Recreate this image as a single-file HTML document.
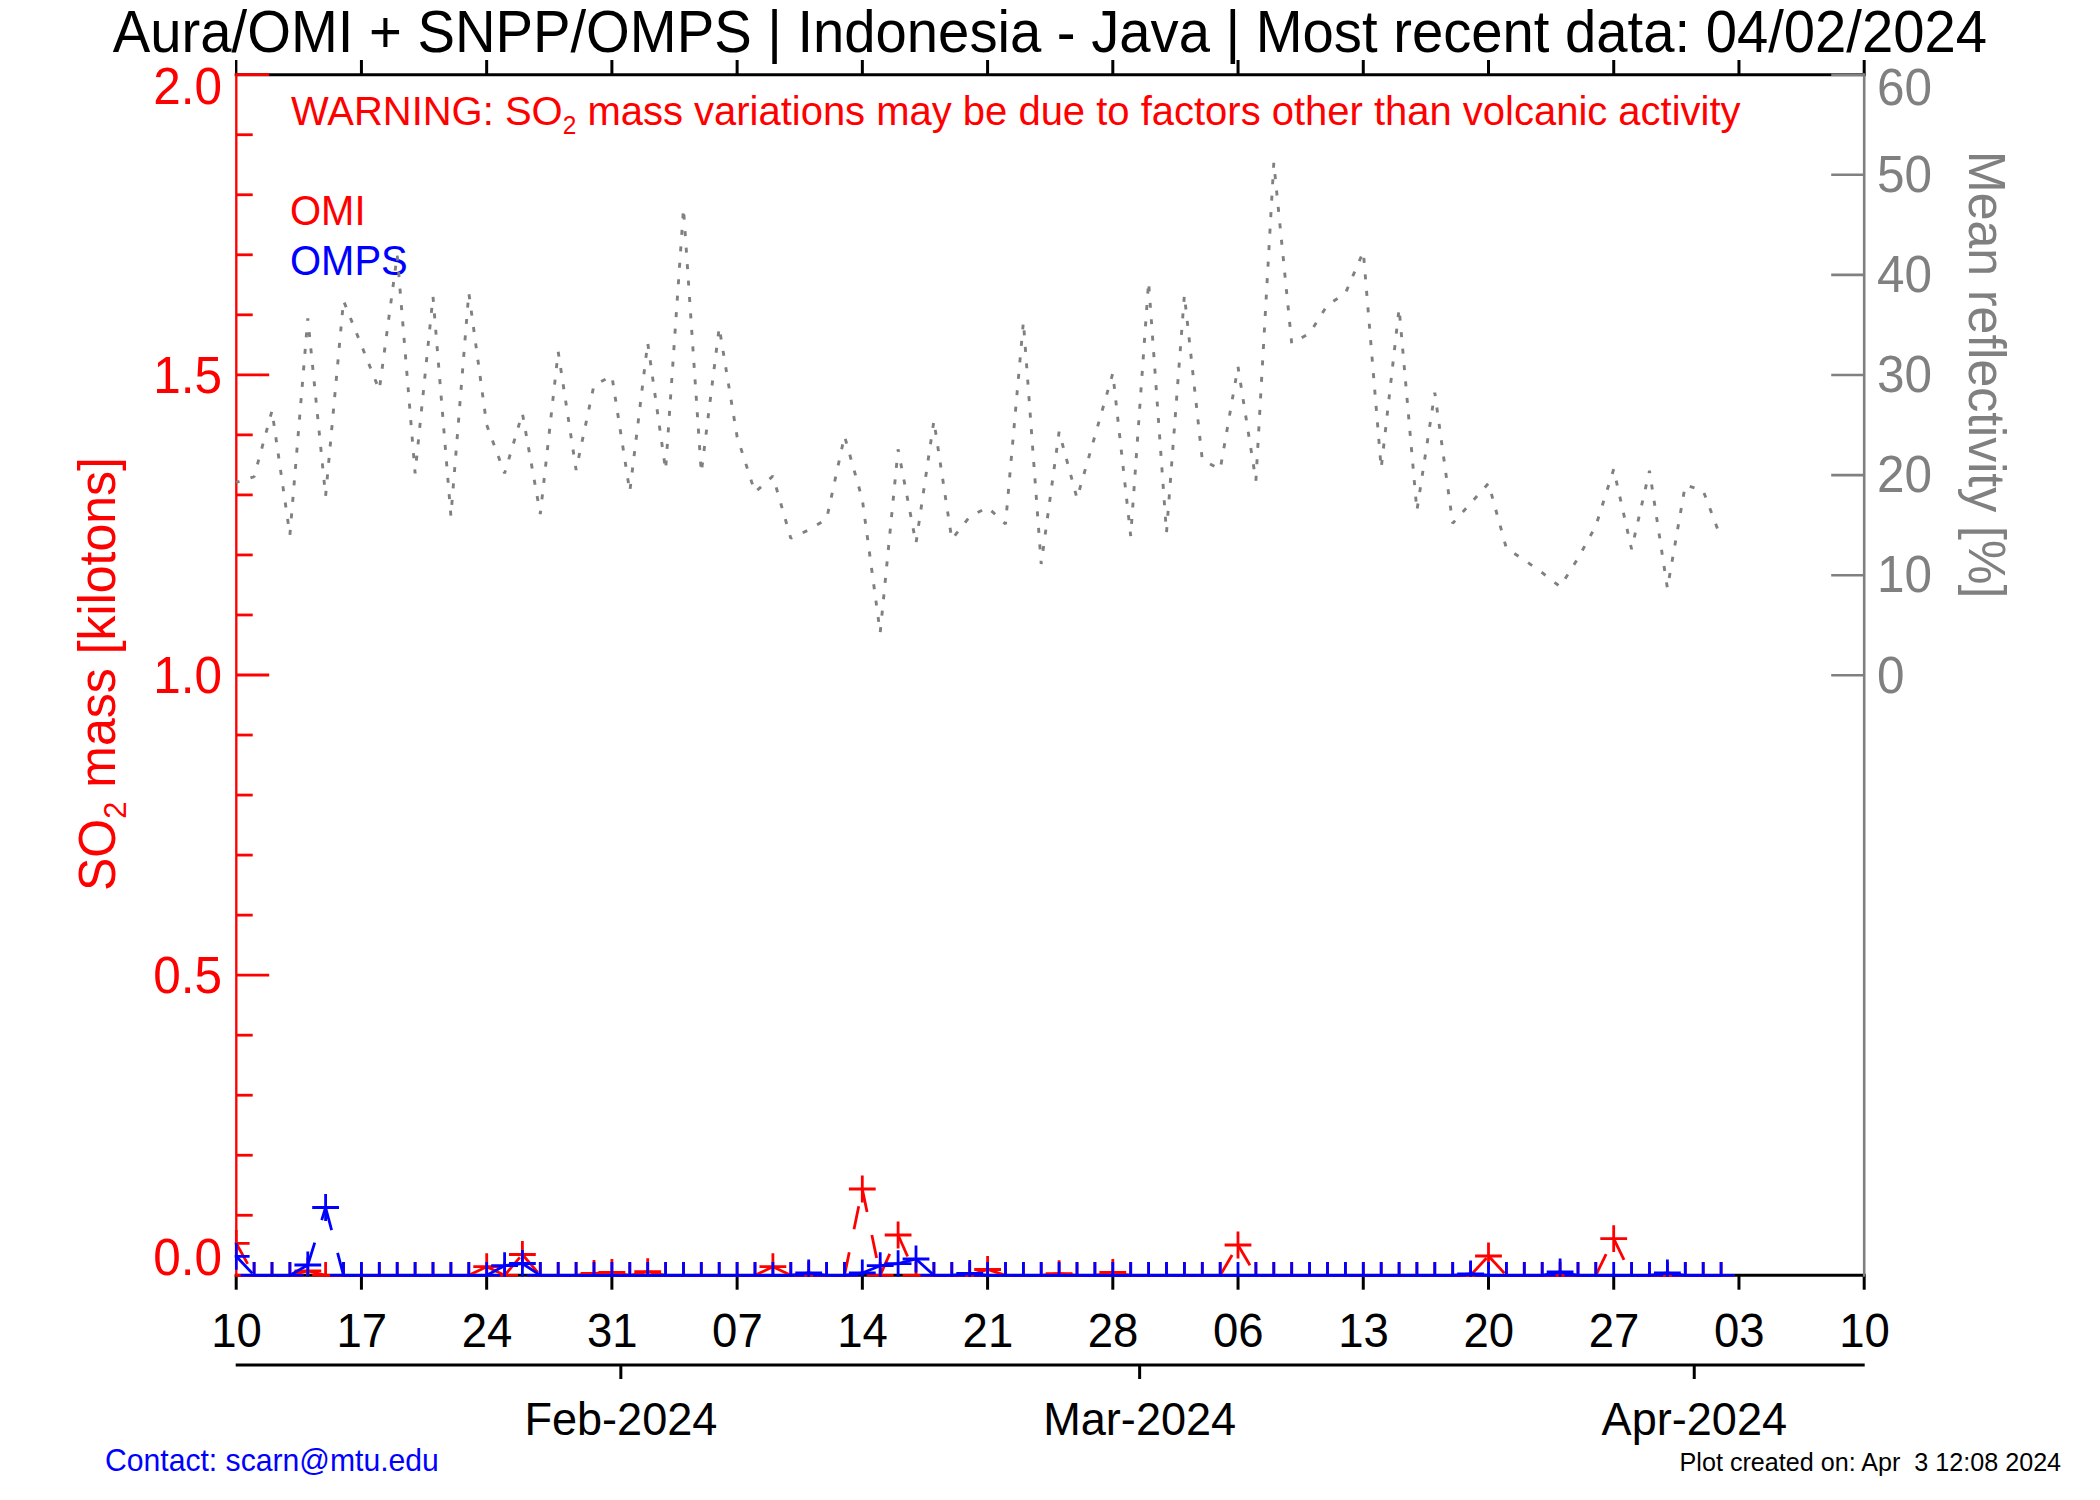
<!DOCTYPE html>
<html><head><meta charset="utf-8"><title>SO2 mass time series</title>
<style>
html,body{margin:0;padding:0;background:#fff;}
body{width:2100px;height:1500px;overflow:hidden;}
svg{display:block;}
text{font-family:"Liberation Sans",Arial,Helvetica,sans-serif;white-space:pre;}
</style></head><body>
<svg width="2100" height="1500" viewBox="0 0 2100 1500">
<rect width="2100" height="1500" fill="#fff"/>
<defs><clipPath id="cp"><rect x="234.7" y="60" width="1632" height="1216.8"/></clipPath></defs>

<g stroke="#000" stroke-width="3" fill="none">
<line x1="234.7" y1="74.7" x2="1865.7" y2="74.7"/>
<line x1="234.7" y1="1275.3" x2="1865.7" y2="1275.3"/>
<line x1="236.20" y1="60" x2="236.20" y2="74.7" stroke-width="2.4"/>
<line x1="236.20" y1="1275.3" x2="236.20" y2="1289.7"/>
<line x1="361.43" y1="60" x2="361.43" y2="74.7"/>
<line x1="361.43" y1="1275.3" x2="361.43" y2="1289.7"/>
<line x1="486.66" y1="60" x2="486.66" y2="74.7"/>
<line x1="486.66" y1="1275.3" x2="486.66" y2="1289.7"/>
<line x1="611.89" y1="60" x2="611.89" y2="74.7"/>
<line x1="611.89" y1="1275.3" x2="611.89" y2="1289.7"/>
<line x1="737.12" y1="60" x2="737.12" y2="74.7"/>
<line x1="737.12" y1="1275.3" x2="737.12" y2="1289.7"/>
<line x1="862.35" y1="60" x2="862.35" y2="74.7"/>
<line x1="862.35" y1="1275.3" x2="862.35" y2="1289.7"/>
<line x1="987.58" y1="60" x2="987.58" y2="74.7"/>
<line x1="987.58" y1="1275.3" x2="987.58" y2="1289.7"/>
<line x1="1112.81" y1="60" x2="1112.81" y2="74.7"/>
<line x1="1112.81" y1="1275.3" x2="1112.81" y2="1289.7"/>
<line x1="1238.04" y1="60" x2="1238.04" y2="74.7"/>
<line x1="1238.04" y1="1275.3" x2="1238.04" y2="1289.7"/>
<line x1="1363.27" y1="60" x2="1363.27" y2="74.7"/>
<line x1="1363.27" y1="1275.3" x2="1363.27" y2="1289.7"/>
<line x1="1488.50" y1="60" x2="1488.50" y2="74.7"/>
<line x1="1488.50" y1="1275.3" x2="1488.50" y2="1289.7"/>
<line x1="1613.73" y1="60" x2="1613.73" y2="74.7"/>
<line x1="1613.73" y1="1275.3" x2="1613.73" y2="1289.7"/>
<line x1="1738.96" y1="60" x2="1738.96" y2="74.7"/>
<line x1="1738.96" y1="1275.3" x2="1738.96" y2="1289.7"/>
<line x1="1864.19" y1="60" x2="1864.19" y2="74.7"/>
<line x1="1864.19" y1="1275.3" x2="1864.19" y2="1289.7"/>
<line x1="235.7" y1="1365" x2="1864.7" y2="1365"/>
<line x1="620.84" y1="1365" x2="620.84" y2="1379"/>
<line x1="1139.64" y1="1365" x2="1139.64" y2="1379"/>
<line x1="1694.24" y1="1365" x2="1694.24" y2="1379"/>
</g>
<g stroke="#808080" stroke-width="2.6" fill="none">
<line x1="1864.2" y1="73.2" x2="1864.2" y2="1276.8"/>
<line x1="1864.2" y1="74.70" x2="1831.2" y2="74.70"/>
<line x1="1864.2" y1="174.80" x2="1831.2" y2="174.80"/>
<line x1="1864.2" y1="274.90" x2="1831.2" y2="274.90"/>
<line x1="1864.2" y1="375.00" x2="1831.2" y2="375.00"/>
<line x1="1864.2" y1="475.10" x2="1831.2" y2="475.10"/>
<line x1="1864.2" y1="575.20" x2="1831.2" y2="575.20"/>
<line x1="1864.2" y1="675.30" x2="1831.2" y2="675.30"/>
</g>
<g stroke="#f00" stroke-width="2.8" fill="none">
<line x1="236.29999999999998" y1="73.2" x2="236.29999999999998" y2="1276.8" stroke-width="2.35"/>
<line x1="236.2" y1="74.70" x2="269.2" y2="74.70"/>
<line x1="236.2" y1="134.73" x2="252.7" y2="134.73"/>
<line x1="236.2" y1="194.76" x2="252.7" y2="194.76"/>
<line x1="236.2" y1="254.79" x2="252.7" y2="254.79"/>
<line x1="236.2" y1="314.82" x2="252.7" y2="314.82"/>
<line x1="236.2" y1="374.85" x2="269.2" y2="374.85"/>
<line x1="236.2" y1="434.88" x2="252.7" y2="434.88"/>
<line x1="236.2" y1="494.91" x2="252.7" y2="494.91"/>
<line x1="236.2" y1="554.94" x2="252.7" y2="554.94"/>
<line x1="236.2" y1="614.97" x2="252.7" y2="614.97"/>
<line x1="236.2" y1="675.00" x2="269.2" y2="675.00"/>
<line x1="236.2" y1="735.03" x2="252.7" y2="735.03"/>
<line x1="236.2" y1="795.06" x2="252.7" y2="795.06"/>
<line x1="236.2" y1="855.09" x2="252.7" y2="855.09"/>
<line x1="236.2" y1="915.12" x2="252.7" y2="915.12"/>
<line x1="236.2" y1="975.15" x2="269.2" y2="975.15"/>
<line x1="236.2" y1="1035.18" x2="252.7" y2="1035.18"/>
<line x1="236.2" y1="1095.21" x2="252.7" y2="1095.21"/>
<line x1="236.2" y1="1155.24" x2="252.7" y2="1155.24"/>
<line x1="236.2" y1="1215.27" x2="252.7" y2="1215.27"/>
<line x1="236.2" y1="1275.30" x2="269.2" y2="1275.30"/>
</g>
<text transform="translate(1049.9,52.3) scale(1,1.04)" font-size="56.22" fill="#000" text-anchor="middle">Aura/OMI + SNPP/OMPS | Indonesia - Java | Most recent data: 04/02/2024</text>
<text transform="translate(222,104.3) scale(1,1.03)" font-size="49.5" fill="#f00" text-anchor="end">2.0</text>
<text transform="translate(222,392.8) scale(1,1.03)" font-size="49.5" fill="#f00" text-anchor="end">1.5</text>
<text transform="translate(222,693) scale(1,1.03)" font-size="49.5" fill="#f00" text-anchor="end">1.0</text>
<text transform="translate(222,993) scale(1,1.03)" font-size="49.5" fill="#f00" text-anchor="end">0.5</text>
<text transform="translate(222,1275) scale(1,1.03)" font-size="49.5" fill="#f00" text-anchor="end">0.0</text>
<text transform="translate(1877,105) scale(1,1.03)" font-size="49.5" fill="#808080" text-anchor="start">60</text>
<text transform="translate(1877,192.0) scale(1,1.03)" font-size="49.5" fill="#808080" text-anchor="start">50</text>
<text transform="translate(1877,292.3) scale(1,1.03)" font-size="49.5" fill="#808080" text-anchor="start">40</text>
<text transform="translate(1877,392.3) scale(1,1.03)" font-size="49.5" fill="#808080" text-anchor="start">30</text>
<text transform="translate(1877,492.3) scale(1,1.03)" font-size="49.5" fill="#808080" text-anchor="start">20</text>
<text transform="translate(1877,592.4) scale(1,1.03)" font-size="49.5" fill="#808080" text-anchor="start">10</text>
<text transform="translate(1877,693) scale(1,1.03)" font-size="49.5" fill="#808080" text-anchor="start">0</text>
<text transform="translate(236.5,1347) scale(1,1.06)" font-size="45.5" fill="#000" text-anchor="middle">10</text>
<text transform="translate(361.7,1347) scale(1,1.06)" font-size="45.5" fill="#000" text-anchor="middle">17</text>
<text transform="translate(487.0,1347) scale(1,1.06)" font-size="45.5" fill="#000" text-anchor="middle">24</text>
<text transform="translate(612.2,1347) scale(1,1.06)" font-size="45.5" fill="#000" text-anchor="middle">31</text>
<text transform="translate(737.4,1347) scale(1,1.06)" font-size="45.5" fill="#000" text-anchor="middle">07</text>
<text transform="translate(862.6,1347) scale(1,1.06)" font-size="45.5" fill="#000" text-anchor="middle">14</text>
<text transform="translate(987.9,1347) scale(1,1.06)" font-size="45.5" fill="#000" text-anchor="middle">21</text>
<text transform="translate(1113.1,1347) scale(1,1.06)" font-size="45.5" fill="#000" text-anchor="middle">28</text>
<text transform="translate(1238.3,1347) scale(1,1.06)" font-size="45.5" fill="#000" text-anchor="middle">06</text>
<text transform="translate(1363.6,1347) scale(1,1.06)" font-size="45.5" fill="#000" text-anchor="middle">13</text>
<text transform="translate(1488.8,1347) scale(1,1.06)" font-size="45.5" fill="#000" text-anchor="middle">20</text>
<text transform="translate(1614.0,1347) scale(1,1.06)" font-size="45.5" fill="#000" text-anchor="middle">27</text>
<text transform="translate(1739.3,1347) scale(1,1.06)" font-size="45.5" fill="#000" text-anchor="middle">03</text>
<text transform="translate(1864.5,1347) scale(1,1.06)" font-size="45.5" fill="#000" text-anchor="middle">10</text>
<text transform="translate(620.9,1435) scale(1,1.045)" font-size="45.1" fill="#000" text-anchor="middle">Feb-2024</text>
<text transform="translate(1139.7,1435) scale(1,1.045)" font-size="45.1" fill="#000" text-anchor="middle">Mar-2024</text>
<text transform="translate(1694.3,1435) scale(1,1.045)" font-size="45.1" fill="#000" text-anchor="middle">Apr-2024</text>
<text transform="translate(291,124.8) scale(1,1.03)" font-size="39.98" fill="#f00" text-anchor="start">WARNING: SO<tspan font-size="24.5" dy="9">2</tspan><tspan dy="-9"> mass variations may be due to factors other than volcanic activity</tspan></text>
<text transform="translate(290,225) scale(1,1.045)" font-size="40" fill="#f00" text-anchor="start">OMI</text>
<text transform="translate(290,275) scale(1,1.045)" font-size="40" fill="#00f" text-anchor="start">OMPS</text>
<text transform="translate(115,674) rotate(-90) scale(1,1.03)" font-size="50" fill="#f00" text-anchor="middle">SO<tspan font-size="31" dy="11">2</tspan><tspan dy="-11"> mass [kilotons]</tspan></text>
<text transform="translate(1968.8,151) rotate(90) scale(1,1.03)" font-size="50" fill="#808080" text-anchor="start">Mean reflectivity [%]</text>
<text transform="translate(105,1470.5) scale(1,1.03)" font-size="30.15" fill="#00f" text-anchor="start">Contact: scarn@mtu.edu</text>
<text transform="translate(1679.6,1470.5) scale(1,1.03)" font-size="25.15" fill="#000" text-anchor="start">Plot created on: Apr  3 12:08 2024</text>
<g clip-path="url(#cp)" fill="none">
<polyline stroke="#808080" stroke-width="2.9" stroke-dasharray="5.0 11.5" stroke-dashoffset="1.54" stroke-linejoin="bevel" points="236.2,482.3 254.1,476.7 272.0,410.7 289.9,535.0 307.8,318.3 325.6,496.0 343.5,300.7 361.4,345.3 379.3,390.0 397.2,255.0 415.1,473.3 433.0,296.7 450.9,516.0 468.8,292.7 486.7,425.0 504.6,473.3 522.4,413.3 540.3,514.0 558.2,351.7 576.1,470.0 594.0,385.0 611.9,376.0 629.8,491.7 647.7,342.7 665.6,470.0 683.5,208.3 701.3,472.7 719.2,327.3 737.1,436.7 755.0,492.3 772.9,476.0 790.8,538.3 808.7,530.0 826.6,519.0 844.5,436.0 862.3,499.3 880.2,632.7 898.1,449.3 916.0,543.3 933.9,420.7 951.8,539.3 969.7,516.7 987.6,507.3 1005.5,524.0 1023.4,321.7 1041.2,564.0 1059.1,431.7 1077.0,498.3 1094.9,436.0 1112.8,373.3 1130.7,536.0 1148.6,281.7 1166.5,532.7 1184.4,295.0 1202.3,460.0 1220.2,469.3 1238.0,366.7 1255.9,480.7 1273.8,162.7 1291.7,343.3 1309.6,333.3 1327.5,305.0 1345.4,293.3 1363.3,251.7 1381.2,468.3 1399.1,308.3 1416.9,510.7 1434.8,392.7 1452.7,523.3 1470.6,503.3 1488.5,483.3 1506.4,548.3 1524.3,560.0 1542.2,572.7 1560.1,586.7 1578.0,558.3 1595.8,526.0 1613.7,469.3 1631.6,549.3 1649.5,470.7 1667.4,588.3 1685.3,485.0 1703.2,490.7 1721.1,538.3"/>
<g stroke="#f00" stroke-width="2.8">
<g stroke-dasharray="23.5 23.5">
<line x1="236.2" y1="1243.3" x2="254.1" y2="1275.3"/>
<line x1="254.1" y1="1275.3" x2="272.0" y2="1275.3"/>
<line x1="272.0" y1="1275.3" x2="289.9" y2="1275.3"/>
<line x1="289.9" y1="1275.3" x2="307.8" y2="1270.8"/>
<line x1="307.8" y1="1270.8" x2="325.6" y2="1275.3"/>
<line x1="325.6" y1="1275.3" x2="343.5" y2="1275.3"/>
<line x1="343.5" y1="1275.3" x2="361.4" y2="1275.3"/>
<line x1="361.4" y1="1275.3" x2="379.3" y2="1275.3"/>
<line x1="379.3" y1="1275.3" x2="397.2" y2="1275.3"/>
<line x1="397.2" y1="1275.3" x2="415.1" y2="1275.3"/>
<line x1="415.1" y1="1275.3" x2="433.0" y2="1275.3"/>
<line x1="433.0" y1="1275.3" x2="450.9" y2="1275.3"/>
<line x1="450.9" y1="1275.3" x2="468.8" y2="1275.3"/>
<line x1="468.8" y1="1275.3" x2="486.7" y2="1266.7"/>
<line x1="486.7" y1="1266.7" x2="504.6" y2="1275.3"/>
<line x1="504.6" y1="1275.3" x2="522.4" y2="1254.5"/>
<line x1="522.4" y1="1254.5" x2="540.3" y2="1275.3"/>
<line x1="540.3" y1="1275.3" x2="558.2" y2="1275.3"/>
<line x1="558.2" y1="1275.3" x2="576.1" y2="1275.3"/>
<line x1="576.1" y1="1275.3" x2="594.0" y2="1273.3"/>
<line x1="594.0" y1="1273.3" x2="611.9" y2="1272.5"/>
<line x1="611.9" y1="1272.5" x2="629.8" y2="1275.3"/>
<line x1="629.8" y1="1275.3" x2="647.7" y2="1271.7"/>
<line x1="647.7" y1="1271.7" x2="665.6" y2="1275.3"/>
<line x1="665.6" y1="1275.3" x2="683.5" y2="1275.3"/>
<line x1="683.5" y1="1275.3" x2="701.3" y2="1275.3"/>
<line x1="701.3" y1="1275.3" x2="719.2" y2="1275.3"/>
<line x1="719.2" y1="1275.3" x2="737.1" y2="1275.3"/>
<line x1="737.1" y1="1275.3" x2="755.0" y2="1275.3"/>
<line x1="755.0" y1="1275.3" x2="772.9" y2="1266.7"/>
<line x1="772.9" y1="1266.7" x2="790.8" y2="1275.3"/>
<line x1="790.8" y1="1275.3" x2="808.7" y2="1274.8"/>
<line x1="808.7" y1="1274.8" x2="826.6" y2="1275.3"/>
<line x1="826.6" y1="1275.3" x2="844.5" y2="1275.3"/>
<line x1="844.5" y1="1275.3" x2="862.3" y2="1189.0"/>
<line x1="862.3" y1="1189.0" x2="880.2" y2="1275.3"/>
<line x1="880.2" y1="1275.3" x2="898.1" y2="1235.0"/>
<line x1="898.1" y1="1235.0" x2="916.0" y2="1275.3"/>
<line x1="916.0" y1="1275.3" x2="933.9" y2="1275.3"/>
<line x1="933.9" y1="1275.3" x2="951.8" y2="1275.3"/>
<line x1="951.8" y1="1275.3" x2="969.7" y2="1275.3"/>
<line x1="969.7" y1="1275.3" x2="987.6" y2="1269.5"/>
<line x1="987.6" y1="1269.5" x2="1005.5" y2="1275.3"/>
<line x1="1005.5" y1="1275.3" x2="1023.4" y2="1275.3"/>
<line x1="1023.4" y1="1275.3" x2="1041.2" y2="1275.3"/>
<line x1="1041.2" y1="1275.3" x2="1059.1" y2="1273.7"/>
<line x1="1059.1" y1="1273.7" x2="1077.0" y2="1275.3"/>
<line x1="1077.0" y1="1275.3" x2="1094.9" y2="1275.3"/>
<line x1="1094.9" y1="1275.3" x2="1112.8" y2="1272.5"/>
<line x1="1112.8" y1="1272.5" x2="1130.7" y2="1275.3"/>
<line x1="1130.7" y1="1275.3" x2="1148.6" y2="1275.3"/>
<line x1="1148.6" y1="1275.3" x2="1166.5" y2="1275.3"/>
<line x1="1166.5" y1="1275.3" x2="1184.4" y2="1275.3"/>
<line x1="1184.4" y1="1275.3" x2="1202.3" y2="1275.3"/>
<line x1="1202.3" y1="1275.3" x2="1220.2" y2="1275.3"/>
<line x1="1220.2" y1="1275.3" x2="1238.0" y2="1245.0"/>
<line x1="1238.0" y1="1245.0" x2="1255.9" y2="1275.3"/>
<line x1="1255.9" y1="1275.3" x2="1273.8" y2="1275.3"/>
<line x1="1273.8" y1="1275.3" x2="1291.7" y2="1275.3"/>
<line x1="1291.7" y1="1275.3" x2="1309.6" y2="1275.3"/>
<line x1="1309.6" y1="1275.3" x2="1327.5" y2="1275.3"/>
<line x1="1327.5" y1="1275.3" x2="1345.4" y2="1275.3"/>
<line x1="1345.4" y1="1275.3" x2="1363.3" y2="1275.3"/>
<line x1="1363.3" y1="1275.3" x2="1381.2" y2="1275.3"/>
<line x1="1381.2" y1="1275.3" x2="1399.1" y2="1275.3"/>
<line x1="1399.1" y1="1275.3" x2="1416.9" y2="1275.3"/>
<line x1="1416.9" y1="1275.3" x2="1434.8" y2="1275.3"/>
<line x1="1434.8" y1="1275.3" x2="1452.7" y2="1275.3"/>
<line x1="1452.7" y1="1275.3" x2="1470.6" y2="1275.3"/>
<line x1="1470.6" y1="1275.3" x2="1488.5" y2="1256.0"/>
<line x1="1488.5" y1="1256.0" x2="1506.4" y2="1275.3"/>
<line x1="1506.4" y1="1275.3" x2="1524.3" y2="1275.3"/>
<line x1="1524.3" y1="1275.3" x2="1542.2" y2="1275.3"/>
<line x1="1542.2" y1="1275.3" x2="1560.1" y2="1275.3"/>
<line x1="1560.1" y1="1275.3" x2="1578.0" y2="1275.3"/>
<line x1="1578.0" y1="1275.3" x2="1595.8" y2="1275.3"/>
<line x1="1595.8" y1="1275.3" x2="1613.7" y2="1238.7"/>
<line x1="1613.7" y1="1238.7" x2="1631.6" y2="1275.3"/>
<line x1="1631.6" y1="1275.3" x2="1649.5" y2="1275.3"/>
<line x1="1649.5" y1="1275.3" x2="1667.4" y2="1275.3"/>
<line x1="1667.4" y1="1275.3" x2="1685.3" y2="1275.3"/>
<line x1="1685.3" y1="1275.3" x2="1703.2" y2="1275.3"/>
<line x1="1703.2" y1="1275.3" x2="1721.1" y2="1275.3"/>
</g>
<path d="M222.8 1243.3H249.6M236.2 1229.9V1256.7"/>
<path d="M240.7 1275.3H267.5M254.1 1261.9V1288.7"/>
<path d="M258.6 1275.3H285.4M272.0 1261.9V1288.7"/>
<path d="M276.5 1275.3H303.3M289.9 1261.9V1288.7"/>
<path d="M294.4 1270.8H321.2M307.8 1257.4V1284.2"/>
<path d="M312.2 1275.3H339.0M325.6 1261.9V1288.7"/>
<path d="M330.1 1275.3H356.9M343.5 1261.9V1288.7"/>
<path d="M348.0 1275.3H374.8M361.4 1261.9V1288.7"/>
<path d="M365.9 1275.3H392.7M379.3 1261.9V1288.7"/>
<path d="M383.8 1275.3H410.6M397.2 1261.9V1288.7"/>
<path d="M401.7 1275.3H428.5M415.1 1261.9V1288.7"/>
<path d="M419.6 1275.3H446.4M433.0 1261.9V1288.7"/>
<path d="M437.5 1275.3H464.3M450.9 1261.9V1288.7"/>
<path d="M455.4 1275.3H482.2M468.8 1261.9V1288.7"/>
<path d="M473.3 1266.7H500.1M486.7 1253.3V1280.1"/>
<path d="M491.2 1275.3H518.0M504.6 1261.9V1288.7"/>
<path d="M509.0 1254.5H535.8M522.4 1241.1V1267.9"/>
<path d="M526.9 1275.3H553.7M540.3 1261.9V1288.7"/>
<path d="M544.8 1275.3H571.6M558.2 1261.9V1288.7"/>
<path d="M562.7 1275.3H589.5M576.1 1261.9V1288.7"/>
<path d="M580.6 1273.3H607.4M594.0 1259.9V1286.7"/>
<path d="M598.5 1272.5H625.3M611.9 1259.1V1285.9"/>
<path d="M616.4 1275.3H643.2M629.8 1261.9V1288.7"/>
<path d="M634.3 1271.7H661.1M647.7 1258.3V1285.1"/>
<path d="M652.2 1275.3H679.0M665.6 1261.9V1288.7"/>
<path d="M670.1 1275.3H696.9M683.5 1261.9V1288.7"/>
<path d="M687.9 1275.3H714.7M701.3 1261.9V1288.7"/>
<path d="M705.8 1275.3H732.6M719.2 1261.9V1288.7"/>
<path d="M723.7 1275.3H750.5M737.1 1261.9V1288.7"/>
<path d="M741.6 1275.3H768.4M755.0 1261.9V1288.7"/>
<path d="M759.5 1266.7H786.3M772.9 1253.3V1280.1"/>
<path d="M777.4 1275.3H804.2M790.8 1261.9V1288.7"/>
<path d="M795.3 1274.8H822.1M808.7 1261.4V1288.2"/>
<path d="M813.2 1275.3H840.0M826.6 1261.9V1288.7"/>
<path d="M831.1 1275.3H857.9M844.5 1261.9V1288.7"/>
<path d="M848.9 1189.0H875.7M862.3 1175.6V1202.4"/>
<path d="M866.8 1275.3H893.6M880.2 1261.9V1288.7"/>
<path d="M884.7 1235.0H911.5M898.1 1221.6V1248.4"/>
<path d="M902.6 1275.3H929.4M916.0 1261.9V1288.7"/>
<path d="M920.5 1275.3H947.3M933.9 1261.9V1288.7"/>
<path d="M938.4 1275.3H965.2M951.8 1261.9V1288.7"/>
<path d="M956.3 1275.3H983.1M969.7 1261.9V1288.7"/>
<path d="M974.2 1269.5H1001.0M987.6 1256.1V1282.9"/>
<path d="M992.1 1275.3H1018.9M1005.5 1261.9V1288.7"/>
<path d="M1010.0 1275.3H1036.8M1023.4 1261.9V1288.7"/>
<path d="M1027.8 1275.3H1054.7M1041.2 1261.9V1288.7"/>
<path d="M1045.7 1273.7H1072.5M1059.1 1260.3V1287.1"/>
<path d="M1063.6 1275.3H1090.4M1077.0 1261.9V1288.7"/>
<path d="M1081.5 1275.3H1108.3M1094.9 1261.9V1288.7"/>
<path d="M1099.4 1272.5H1126.2M1112.8 1259.1V1285.9"/>
<path d="M1117.3 1275.3H1144.1M1130.7 1261.9V1288.7"/>
<path d="M1135.2 1275.3H1162.0M1148.6 1261.9V1288.7"/>
<path d="M1153.1 1275.3H1179.9M1166.5 1261.9V1288.7"/>
<path d="M1171.0 1275.3H1197.8M1184.4 1261.9V1288.7"/>
<path d="M1188.9 1275.3H1215.7M1202.3 1261.9V1288.7"/>
<path d="M1206.8 1275.3H1233.6M1220.2 1261.9V1288.7"/>
<path d="M1224.6 1245.0H1251.4M1238.0 1231.6V1258.4"/>
<path d="M1242.5 1275.3H1269.3M1255.9 1261.9V1288.7"/>
<path d="M1260.4 1275.3H1287.2M1273.8 1261.9V1288.7"/>
<path d="M1278.3 1275.3H1305.1M1291.7 1261.9V1288.7"/>
<path d="M1296.2 1275.3H1323.0M1309.6 1261.9V1288.7"/>
<path d="M1314.1 1275.3H1340.9M1327.5 1261.9V1288.7"/>
<path d="M1332.0 1275.3H1358.8M1345.4 1261.9V1288.7"/>
<path d="M1349.9 1275.3H1376.7M1363.3 1261.9V1288.7"/>
<path d="M1367.8 1275.3H1394.6M1381.2 1261.9V1288.7"/>
<path d="M1385.7 1275.3H1412.5M1399.1 1261.9V1288.7"/>
<path d="M1403.5 1275.3H1430.3M1416.9 1261.9V1288.7"/>
<path d="M1421.4 1275.3H1448.2M1434.8 1261.9V1288.7"/>
<path d="M1439.3 1275.3H1466.1M1452.7 1261.9V1288.7"/>
<path d="M1457.2 1275.3H1484.0M1470.6 1261.9V1288.7"/>
<path d="M1475.1 1256.0H1501.9M1488.5 1242.6V1269.4"/>
<path d="M1493.0 1275.3H1519.8M1506.4 1261.9V1288.7"/>
<path d="M1510.9 1275.3H1537.7M1524.3 1261.9V1288.7"/>
<path d="M1528.8 1275.3H1555.6M1542.2 1261.9V1288.7"/>
<path d="M1546.7 1275.3H1573.5M1560.1 1261.9V1288.7"/>
<path d="M1564.5 1275.3H1591.4M1578.0 1261.9V1288.7"/>
<path d="M1582.4 1275.3H1609.2M1595.8 1261.9V1288.7"/>
<path d="M1600.3 1238.7H1627.1M1613.7 1225.3V1252.1"/>
<path d="M1618.2 1275.3H1645.0M1631.6 1261.9V1288.7"/>
<path d="M1636.1 1275.3H1662.9M1649.5 1261.9V1288.7"/>
<path d="M1654.0 1275.3H1680.8M1667.4 1261.9V1288.7"/>
<path d="M1671.9 1275.3H1698.7M1685.3 1261.9V1288.7"/>
<path d="M1689.8 1275.3H1716.6M1703.2 1261.9V1288.7"/>
<path d="M1707.7 1275.3H1734.5M1721.1 1261.9V1288.7"/>
</g>
<g stroke="#00f" stroke-width="2.8">
<g stroke-dasharray="23.5 23.5">
<line x1="236.2" y1="1256.3" x2="254.1" y2="1275.3"/>
<line x1="254.1" y1="1275.3" x2="272.0" y2="1275.3"/>
<line x1="272.0" y1="1275.3" x2="289.9" y2="1275.3"/>
<line x1="289.9" y1="1275.3" x2="307.8" y2="1265.0"/>
<line x1="307.8" y1="1265.0" x2="325.6" y2="1207.5"/>
<line x1="325.6" y1="1207.5" x2="343.5" y2="1275.3"/>
<line x1="343.5" y1="1275.3" x2="361.4" y2="1275.3"/>
<line x1="361.4" y1="1275.3" x2="379.3" y2="1275.3"/>
<line x1="379.3" y1="1275.3" x2="397.2" y2="1275.3"/>
<line x1="397.2" y1="1275.3" x2="415.1" y2="1275.3"/>
<line x1="415.1" y1="1275.3" x2="433.0" y2="1275.3"/>
<line x1="433.0" y1="1275.3" x2="450.9" y2="1275.3"/>
<line x1="450.9" y1="1275.3" x2="468.8" y2="1275.3"/>
<line x1="468.8" y1="1275.3" x2="486.7" y2="1275.3"/>
<line x1="486.7" y1="1275.3" x2="504.6" y2="1265.7"/>
<line x1="504.6" y1="1265.7" x2="522.4" y2="1263.5"/>
<line x1="522.4" y1="1263.5" x2="540.3" y2="1275.3"/>
<line x1="540.3" y1="1275.3" x2="558.2" y2="1275.3"/>
<line x1="558.2" y1="1275.3" x2="576.1" y2="1275.3"/>
<line x1="576.1" y1="1275.3" x2="594.0" y2="1275.3"/>
<line x1="594.0" y1="1275.3" x2="611.9" y2="1275.3"/>
<line x1="611.9" y1="1275.3" x2="629.8" y2="1275.3"/>
<line x1="629.8" y1="1275.3" x2="647.7" y2="1275.3"/>
<line x1="647.7" y1="1275.3" x2="665.6" y2="1275.3"/>
<line x1="665.6" y1="1275.3" x2="683.5" y2="1275.3"/>
<line x1="683.5" y1="1275.3" x2="701.3" y2="1275.3"/>
<line x1="701.3" y1="1275.3" x2="719.2" y2="1275.3"/>
<line x1="719.2" y1="1275.3" x2="737.1" y2="1275.3"/>
<line x1="737.1" y1="1275.3" x2="755.0" y2="1275.3"/>
<line x1="755.0" y1="1275.3" x2="772.9" y2="1275.3"/>
<line x1="772.9" y1="1275.3" x2="790.8" y2="1275.3"/>
<line x1="790.8" y1="1275.3" x2="808.7" y2="1273.0"/>
<line x1="808.7" y1="1273.0" x2="826.6" y2="1275.3"/>
<line x1="826.6" y1="1275.3" x2="844.5" y2="1275.3"/>
<line x1="844.5" y1="1275.3" x2="862.3" y2="1273.0"/>
<line x1="862.3" y1="1273.0" x2="880.2" y2="1265.7"/>
<line x1="880.2" y1="1265.7" x2="898.1" y2="1263.7"/>
<line x1="898.1" y1="1263.7" x2="916.0" y2="1259.0"/>
<line x1="916.0" y1="1259.0" x2="933.9" y2="1275.3"/>
<line x1="933.9" y1="1275.3" x2="951.8" y2="1275.3"/>
<line x1="951.8" y1="1275.3" x2="969.7" y2="1273.5"/>
<line x1="969.7" y1="1273.5" x2="987.6" y2="1275.3"/>
<line x1="987.6" y1="1275.3" x2="1005.5" y2="1275.3"/>
<line x1="1005.5" y1="1275.3" x2="1023.4" y2="1275.3"/>
<line x1="1023.4" y1="1275.3" x2="1041.2" y2="1275.3"/>
<line x1="1041.2" y1="1275.3" x2="1059.1" y2="1275.3"/>
<line x1="1059.1" y1="1275.3" x2="1077.0" y2="1275.3"/>
<line x1="1077.0" y1="1275.3" x2="1094.9" y2="1275.3"/>
<line x1="1094.9" y1="1275.3" x2="1112.8" y2="1275.3"/>
<line x1="1112.8" y1="1275.3" x2="1130.7" y2="1275.3"/>
<line x1="1130.7" y1="1275.3" x2="1148.6" y2="1275.3"/>
<line x1="1148.6" y1="1275.3" x2="1166.5" y2="1275.3"/>
<line x1="1166.5" y1="1275.3" x2="1184.4" y2="1275.3"/>
<line x1="1184.4" y1="1275.3" x2="1202.3" y2="1275.3"/>
<line x1="1202.3" y1="1275.3" x2="1220.2" y2="1275.3"/>
<line x1="1220.2" y1="1275.3" x2="1238.0" y2="1275.3"/>
<line x1="1238.0" y1="1275.3" x2="1255.9" y2="1275.3"/>
<line x1="1255.9" y1="1275.3" x2="1273.8" y2="1275.3"/>
<line x1="1273.8" y1="1275.3" x2="1291.7" y2="1275.3"/>
<line x1="1291.7" y1="1275.3" x2="1309.6" y2="1275.3"/>
<line x1="1309.6" y1="1275.3" x2="1327.5" y2="1275.3"/>
<line x1="1327.5" y1="1275.3" x2="1345.4" y2="1275.3"/>
<line x1="1345.4" y1="1275.3" x2="1363.3" y2="1275.3"/>
<line x1="1363.3" y1="1275.3" x2="1381.2" y2="1275.3"/>
<line x1="1381.2" y1="1275.3" x2="1399.1" y2="1275.3"/>
<line x1="1399.1" y1="1275.3" x2="1416.9" y2="1275.3"/>
<line x1="1416.9" y1="1275.3" x2="1434.8" y2="1275.3"/>
<line x1="1434.8" y1="1275.3" x2="1452.7" y2="1275.3"/>
<line x1="1452.7" y1="1275.3" x2="1470.6" y2="1274.0"/>
<line x1="1470.6" y1="1274.0" x2="1488.5" y2="1275.3"/>
<line x1="1488.5" y1="1275.3" x2="1506.4" y2="1275.3"/>
<line x1="1506.4" y1="1275.3" x2="1524.3" y2="1275.3"/>
<line x1="1524.3" y1="1275.3" x2="1542.2" y2="1275.3"/>
<line x1="1542.2" y1="1275.3" x2="1560.1" y2="1272.0"/>
<line x1="1560.1" y1="1272.0" x2="1578.0" y2="1275.3"/>
<line x1="1578.0" y1="1275.3" x2="1595.8" y2="1275.3"/>
<line x1="1595.8" y1="1275.3" x2="1613.7" y2="1275.3"/>
<line x1="1613.7" y1="1275.3" x2="1631.6" y2="1275.3"/>
<line x1="1631.6" y1="1275.3" x2="1649.5" y2="1275.3"/>
<line x1="1649.5" y1="1275.3" x2="1667.4" y2="1273.0"/>
<line x1="1667.4" y1="1273.0" x2="1685.3" y2="1275.3"/>
<line x1="1685.3" y1="1275.3" x2="1703.2" y2="1275.3"/>
<line x1="1703.2" y1="1275.3" x2="1721.1" y2="1275.3"/>
</g>
<path d="M222.8 1256.3H249.6M236.2 1242.9V1269.7"/>
<path d="M240.7 1275.3H267.5M254.1 1261.9V1288.7"/>
<path d="M258.6 1275.3H285.4M272.0 1261.9V1288.7"/>
<path d="M276.5 1275.3H303.3M289.9 1261.9V1288.7"/>
<path d="M294.4 1265.0H321.2M307.8 1251.6V1278.4"/>
<path d="M312.2 1207.5H339.0M325.6 1194.1V1220.9"/>
<path d="M330.1 1275.3H356.9M343.5 1261.9V1288.7"/>
<path d="M348.0 1275.3H374.8M361.4 1261.9V1288.7"/>
<path d="M365.9 1275.3H392.7M379.3 1261.9V1288.7"/>
<path d="M383.8 1275.3H410.6M397.2 1261.9V1288.7"/>
<path d="M401.7 1275.3H428.5M415.1 1261.9V1288.7"/>
<path d="M419.6 1275.3H446.4M433.0 1261.9V1288.7"/>
<path d="M437.5 1275.3H464.3M450.9 1261.9V1288.7"/>
<path d="M455.4 1275.3H482.2M468.8 1261.9V1288.7"/>
<path d="M473.3 1275.3H500.1M486.7 1261.9V1288.7"/>
<path d="M491.2 1265.7H518.0M504.6 1252.3V1279.1"/>
<path d="M509.0 1263.5H535.8M522.4 1250.1V1276.9"/>
<path d="M526.9 1275.3H553.7M540.3 1261.9V1288.7"/>
<path d="M544.8 1275.3H571.6M558.2 1261.9V1288.7"/>
<path d="M562.7 1275.3H589.5M576.1 1261.9V1288.7"/>
<path d="M580.6 1275.3H607.4M594.0 1261.9V1288.7"/>
<path d="M598.5 1275.3H625.3M611.9 1261.9V1288.7"/>
<path d="M616.4 1275.3H643.2M629.8 1261.9V1288.7"/>
<path d="M634.3 1275.3H661.1M647.7 1261.9V1288.7"/>
<path d="M652.2 1275.3H679.0M665.6 1261.9V1288.7"/>
<path d="M670.1 1275.3H696.9M683.5 1261.9V1288.7"/>
<path d="M687.9 1275.3H714.7M701.3 1261.9V1288.7"/>
<path d="M705.8 1275.3H732.6M719.2 1261.9V1288.7"/>
<path d="M723.7 1275.3H750.5M737.1 1261.9V1288.7"/>
<path d="M741.6 1275.3H768.4M755.0 1261.9V1288.7"/>
<path d="M759.5 1275.3H786.3M772.9 1261.9V1288.7"/>
<path d="M777.4 1275.3H804.2M790.8 1261.9V1288.7"/>
<path d="M795.3 1273.0H822.1M808.7 1259.6V1286.4"/>
<path d="M813.2 1275.3H840.0M826.6 1261.9V1288.7"/>
<path d="M831.1 1275.3H857.9M844.5 1261.9V1288.7"/>
<path d="M848.9 1273.0H875.7M862.3 1259.6V1286.4"/>
<path d="M866.8 1265.7H893.6M880.2 1252.3V1279.1"/>
<path d="M884.7 1263.7H911.5M898.1 1250.3V1277.1"/>
<path d="M902.6 1259.0H929.4M916.0 1245.6V1272.4"/>
<path d="M920.5 1275.3H947.3M933.9 1261.9V1288.7"/>
<path d="M938.4 1275.3H965.2M951.8 1261.9V1288.7"/>
<path d="M956.3 1273.5H983.1M969.7 1260.1V1286.9"/>
<path d="M974.2 1275.3H1001.0M987.6 1261.9V1288.7"/>
<path d="M992.1 1275.3H1018.9M1005.5 1261.9V1288.7"/>
<path d="M1010.0 1275.3H1036.8M1023.4 1261.9V1288.7"/>
<path d="M1027.8 1275.3H1054.7M1041.2 1261.9V1288.7"/>
<path d="M1045.7 1275.3H1072.5M1059.1 1261.9V1288.7"/>
<path d="M1063.6 1275.3H1090.4M1077.0 1261.9V1288.7"/>
<path d="M1081.5 1275.3H1108.3M1094.9 1261.9V1288.7"/>
<path d="M1099.4 1275.3H1126.2M1112.8 1261.9V1288.7"/>
<path d="M1117.3 1275.3H1144.1M1130.7 1261.9V1288.7"/>
<path d="M1135.2 1275.3H1162.0M1148.6 1261.9V1288.7"/>
<path d="M1153.1 1275.3H1179.9M1166.5 1261.9V1288.7"/>
<path d="M1171.0 1275.3H1197.8M1184.4 1261.9V1288.7"/>
<path d="M1188.9 1275.3H1215.7M1202.3 1261.9V1288.7"/>
<path d="M1206.8 1275.3H1233.6M1220.2 1261.9V1288.7"/>
<path d="M1224.6 1275.3H1251.4M1238.0 1261.9V1288.7"/>
<path d="M1242.5 1275.3H1269.3M1255.9 1261.9V1288.7"/>
<path d="M1260.4 1275.3H1287.2M1273.8 1261.9V1288.7"/>
<path d="M1278.3 1275.3H1305.1M1291.7 1261.9V1288.7"/>
<path d="M1296.2 1275.3H1323.0M1309.6 1261.9V1288.7"/>
<path d="M1314.1 1275.3H1340.9M1327.5 1261.9V1288.7"/>
<path d="M1332.0 1275.3H1358.8M1345.4 1261.9V1288.7"/>
<path d="M1349.9 1275.3H1376.7M1363.3 1261.9V1288.7"/>
<path d="M1367.8 1275.3H1394.6M1381.2 1261.9V1288.7"/>
<path d="M1385.7 1275.3H1412.5M1399.1 1261.9V1288.7"/>
<path d="M1403.5 1275.3H1430.3M1416.9 1261.9V1288.7"/>
<path d="M1421.4 1275.3H1448.2M1434.8 1261.9V1288.7"/>
<path d="M1439.3 1275.3H1466.1M1452.7 1261.9V1288.7"/>
<path d="M1457.2 1274.0H1484.0M1470.6 1260.6V1287.4"/>
<path d="M1475.1 1275.3H1501.9M1488.5 1261.9V1288.7"/>
<path d="M1493.0 1275.3H1519.8M1506.4 1261.9V1288.7"/>
<path d="M1510.9 1275.3H1537.7M1524.3 1261.9V1288.7"/>
<path d="M1528.8 1275.3H1555.6M1542.2 1261.9V1288.7"/>
<path d="M1546.7 1272.0H1573.5M1560.1 1258.6V1285.4"/>
<path d="M1564.5 1275.3H1591.4M1578.0 1261.9V1288.7"/>
<path d="M1582.4 1275.3H1609.2M1595.8 1261.9V1288.7"/>
<path d="M1600.3 1275.3H1627.1M1613.7 1261.9V1288.7"/>
<path d="M1618.2 1275.3H1645.0M1631.6 1261.9V1288.7"/>
<path d="M1636.1 1275.3H1662.9M1649.5 1261.9V1288.7"/>
<path d="M1654.0 1273.0H1680.8M1667.4 1259.6V1286.4"/>
<path d="M1671.9 1275.3H1698.7M1685.3 1261.9V1288.7"/>
<path d="M1689.8 1275.3H1716.6M1703.2 1261.9V1288.7"/>
<path d="M1707.7 1275.3H1734.5M1721.1 1261.9V1288.7"/>
</g>
</g>
</svg></body></html>
